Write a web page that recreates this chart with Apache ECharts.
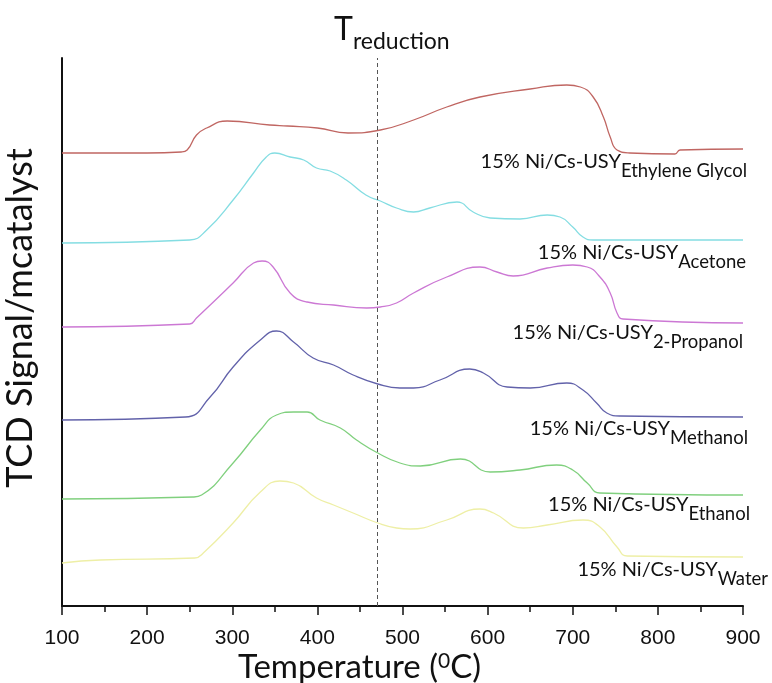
<!DOCTYPE html>
<html>
<head>
<meta charset="utf-8">
<script src="https://cdn.jsdelivr.net/npm/echarts@6/dist/echarts.min.js"></script>
<style>
  html, body { margin: 0; padding: 0; background: #fff; }
  #main { width: 772px; height: 683px; }
</style>
</head>
<body>
<div id="main"></div>
<script>
// 温度刻度
var xTicks = [100, 200, 300, 400, 500, 600, 700, 800, 900];
var reductionTemp = 470;

// 各曲线 (温度, 信号) —— 信号为堆叠后的相对值
var egTemp = [100, 200, 240, 247, 258, 270, 294, 344, 365, 400, 436, 474, 513, 552, 591, 650, 693, 709, 724, 736, 744, 752, 767, 820, 826, 900];
var egSignal = [453, 453, 454, 456, 471, 478, 485, 481, 480, 478, 473, 476, 486, 499, 509, 517, 521, 519, 509, 489, 469, 456, 453, 452, 456, 457];

var acTemp = [100, 250, 270, 301, 325, 340, 350, 368, 384, 399, 415, 434, 457, 474, 493, 513, 532, 564, 583, 603, 638, 670, 685, 700, 712, 724, 900];
var acSignal = [363, 366, 376, 406, 433, 449, 453, 449, 446, 438, 435, 426, 411, 405, 398, 394, 398, 404, 394, 388, 387, 391, 389, 379, 369, 366, 366];

var prTemp = [100, 250, 258, 301, 325, 335, 348, 368, 388, 419, 458, 474, 493, 513, 552, 591, 611, 630, 670, 700, 717, 732, 744, 752, 759, 900];
var prSignal = [279, 282, 288, 323, 343, 345, 339, 313, 304, 301, 298, 299, 303, 313, 329, 339, 334, 330, 338, 341, 339, 329, 313, 293, 287, 283];

var meTemp = [100, 245, 274, 301, 333, 352, 372, 395, 419, 442, 471, 497, 513, 544, 579, 595, 623, 650, 693, 712, 728, 740, 756, 900];
var meSignal = [186, 189, 209, 239, 266, 275, 264, 248, 241, 231, 222, 218, 218, 226, 237, 233, 219, 218, 223, 216, 203, 193, 190, 189];

var etTemp = [100, 254, 264, 301, 333, 352, 372, 388, 403, 427, 446, 471, 497, 521, 568, 603, 638, 681, 700, 717, 732, 900];
var etSignal = [107, 109, 111, 143, 176, 191, 194, 194, 186, 178, 166, 153, 143, 140, 147, 134, 136, 141, 136, 123, 113, 111];

var waTemp = [100, 145, 256, 266, 301, 333, 356, 372, 399, 419, 442, 471, 493, 509, 552, 591, 607, 642, 670, 712, 732, 752, 764, 900];
var waSignal = [43, 46, 48, 53, 83, 114, 125, 123, 108, 101, 93, 83, 78, 77, 86, 97, 93, 78, 81, 86, 79, 59, 50, 49];

// 曲线标签
var labelMain = '15% Ni/Cs-USY';
var labelSubs = ['Ethylene Glycol', 'Acetone', '2-Propanol', 'Methanol', 'Ethanol', 'Water'];
var labelY = [443, 352, 272, 176, 100, 35];

function zip(xs, ys) {
    var out = [];
    for (var i = 0; i < xs.length; i++) {
        out.push([xs[i], ys[i]]);
    }
    return out;
}

var lineColors = ['#c06662', '#84dde2', '#cc78d4', '#6262aa', '#80d07e', '#eeefa6'];
var labelShift = [4, 3, 0, 5, 7, 25];
var seriesData = [
    zip(egTemp, egSignal),
    zip(acTemp, acSignal),
    zip(prTemp, prSignal),
    zip(meTemp, meSignal),
    zip(etTemp, etSignal),
    zip(waTemp, waSignal)
];

var myChart = echarts.init(document.getElementById('main'));
window.onresize = myChart.resize;

var series = [];
for (var i = 0; i < seriesData.length; i++) {
    var s = {
        type: 'line',
        data: seriesData[i],
        smooth: 0.5,
        showSymbol: false,
        silent: true,
        lineStyle: { width: 1.3, color: lineColors[i] },
        markPoint: {
            symbol: 'circle',
            symbolSize: 0,
            silent: true,
            data: [{
                coord: [900, labelY[i]],
                label: {
                    show: true,
                    position: 'left',
                    distance: 0,
                    offset: [labelShift[i], 0],
                    formatter: '{a|' + labelMain + '}{b|' + labelSubs[i] + '}',
                    rich: {
                        a: { fontFamily: 'Lato', fontSize: 20, color: '#111', lineHeight: 22, verticalAlign: 'top' },
                        b: { fontFamily: 'Lato', fontSize: 18.5, color: '#111', lineHeight: 18, padding: [10, 0, 0, 0], verticalAlign: 'top' }
                    }
                }
            }]
        }
    };
    if (i === 0) {
        // 还原温度虚线
        s.markLine = {
            silent: true,
            symbol: 'none',
            label: { show: false },
            lineStyle: { type: [4, 3], color: '#555', width: 1 },
            data: [{ xAxis: reductionTemp }]
        };
    }
    series.push(s);
}

var option = {
    backgroundColor: '#fff',
    animation: false,
    title: {
        text: '{t|T}{s|reduction}',
        left: 329,
        top: 9,
        textStyle: {
            rich: {
                t: { fontFamily: 'Lato', fontWeight: 'normal', fontSize: 32, color: '#111', lineHeight: 34, verticalAlign: 'top' },
                s: { fontFamily: 'Lato', fontWeight: 'normal', fontSize: 23, color: '#111', lineHeight: 24, padding: [16, 0, 0, 0], verticalAlign: 'top' }
            }
        }
    },
    grid: {
        top: 58,
        bottom: 77,
        left: 62,
        right: 29,
        containLabel: false,
        outerBoundsMode: 'none'
    },
    xAxis: {
        type: 'value',
        min: xTicks[0],
        max: xTicks[xTicks.length - 1],
        interval: 100,
        name: '{a|Temperature (}{s|0}{a|C)}',
        nameLocation: 'middle',
        nameGap: 45,
        nameMoveOverlap: false,
        nameTextStyle: {
            padding: [0, 86, 0, 0],
            rich: {
                a: { fontFamily: 'Lato', fontSize: 33, color: '#111', lineHeight: 36, verticalAlign: 'top' },
                s: { fontFamily: 'Lato', fontSize: 21, color: '#111', lineHeight: 22, verticalAlign: 'top' }
            }
        },
        axisLine: { lineStyle: { color: '#111', width: 2 } },
        axisTick: { length: 9, lineStyle: { color: '#111', width: 1.5 } },
        minorTick: { show: true, splitNumber: 2, length: 6, lineStyle: { color: '#111', width: 1.5 } },
        splitLine: { show: false },
        axisLabel: { fontFamily: 'Liberation Sans', fontSize: 21, color: '#111', margin: 22 }
    },
    yAxis: {
        type: 'value',
        min: 0,
        max: 548,
        name: 'TCD Signal/mcatalyst',
        nameLocation: 'middle',
        nameGap: 24,
        nameMoveOverlap: false,
        nameTextStyle: {
            fontFamily: 'Lato',
            fontSize: 36,
            color: '#111',
            padding: [0, 0, 0, 28]
        },
        axisLine: { show: true, lineStyle: { color: '#111', width: 2 } },
        axisTick: { show: false },
        axisLabel: { show: false },
        splitLine: { show: false }
    },
    series: series
};

if (option && typeof option === "object") {
    myChart.setOption(option);
}
</script>
</body>
</html>
